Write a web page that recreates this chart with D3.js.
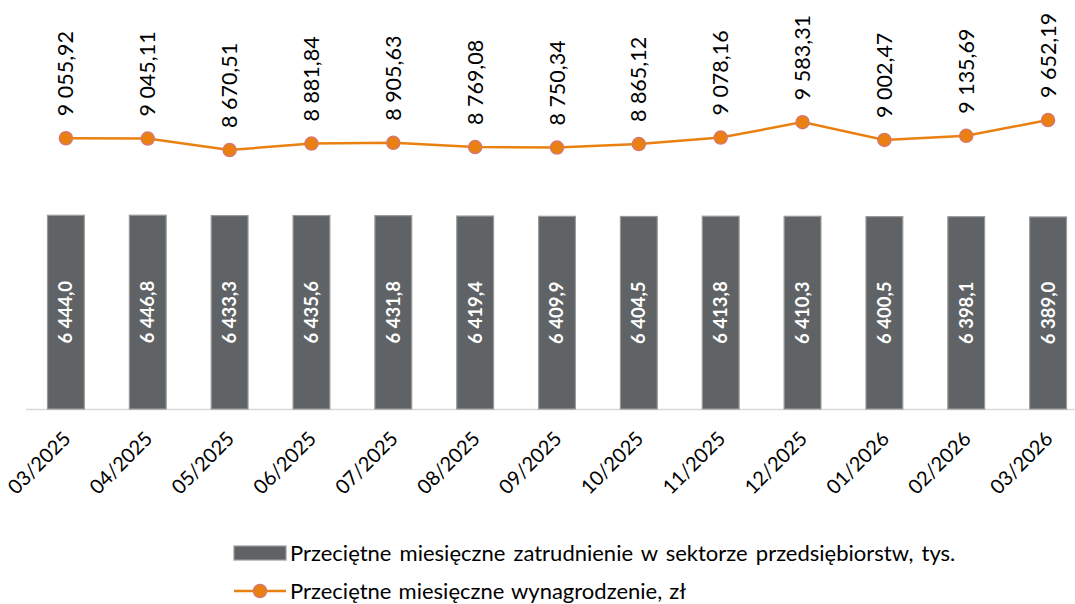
<!DOCTYPE html>
<html><head><meta charset="utf-8">
<script src="https://cdn.jsdelivr.net/npm/d3@7"></script>
<style>
html,body{margin:0;padding:0;background:#fff;}
svg{display:block;font-family:Lato,"Open Sans",sans-serif;}
</style></head>
<body>
<svg id="chart" width="1075" height="604"></svg>
<script>
const categories = ["03/2025","04/2025","05/2025","06/2025","07/2025","08/2025","09/2025","10/2025","11/2025","12/2025","01/2026","02/2026","03/2026"];
const employment = [6444.0,6446.8,6433.3,6435.6,6431.8,6419.4,6409.9,6404.5,6413.8,6410.3,6400.5,6398.1,6389.0];
const wages = [9055.92,9045.11,8670.51,8881.84,8905.63,8769.08,8750.34,8865.12,9078.16,9583.31,9002.47,9135.69,9652.19];
const seriesNames = ["Przeciętne miesięczne zatrudnienie w sektorze przedsiębiorstw, tys.","Przeciętne miesięczne wynagrodzenie, zł"];

const svg = d3.select("#chart");
const fmt = (v, d) => {
  const s = v.toFixed(d).split(".");
  const int = s[0].replace(/\B(?=(\d{3})+(?!\d))/g, " ");
  return int + "," + s[1];
};

const x = d3.scaleBand().domain(categories).range([25, 1089]).paddingInner(0.55).paddingOuter(0.275);
const yBar = d3.scaleLinear().domain([0, 12900]).range([409, 409 - 12900*0.03006]);
const yLine = d3.scaleLinear().domain([0, 12000]).range([415, 415 - 12000*0.03056]);

// baseline
svg.append("line").attr("x1", 26).attr("x2", 1075).attr("y1", 409.5).attr("y2", 409.5)
  .attr("stroke", "#d9d9d9").attr("stroke-width", 1.5);

// bars
svg.append("g").selectAll("rect").data(employment).join("rect")
  .attr("x", (d,i) => x(categories[i]))
  .attr("width", x.bandwidth())
  .attr("y", d => yBar(d))
  .attr("height", d => yBar(0) - yBar(d))
  .attr("fill", "#5f6366").attr("stroke", "#9a9a9a").attr("stroke-width", 1.2);

// bar labels
svg.append("g").selectAll("text").data(employment).join("text")
  .attr("transform", (d,i) => `translate(${x(categories[i]) + x.bandwidth()/2},${(yBar(d)+yBar(0))/2}) rotate(-90)`)
  .attr("text-anchor", "middle").attr("dy", "0.35em")
  .attr("fill", "#fff").attr("font-weight", "bold").attr("font-size", 18.5)
  .text(d => fmt(d, 1));

// line
const cx = i => x(categories[i]) + x.bandwidth()/2;
svg.append("path").datum(wages)
  .attr("d", d3.line().x((d,i) => cx(i)).y(d => yLine(d)))
  .attr("fill", "none").attr("stroke", "#e9800f").attr("stroke-width", 2.5);
svg.append("g").selectAll("circle").data(wages).join("circle")
  .attr("cx", (d,i) => cx(i)).attr("cy", d => yLine(d)).attr("r", 6.5)
  .attr("fill", "#e9800f").attr("stroke", "#d6786c").attr("stroke-width", 1.5);

// line labels
svg.append("g").selectAll("text").data(wages).join("text")
  .attr("transform", (d,i) => `translate(${cx(i)},${yLine(d) - 22}) rotate(-90)`)
  .attr("text-anchor", "start").attr("dy", "0.35em")
  .attr("fill", "#000").attr("font-size", 21.5)
  .text(d => fmt(d, 2));

// x axis labels
svg.append("g").selectAll("text").data(categories).join("text")
  .attr("transform", (d) => `translate(${x(d) + x.bandwidth()/2 + 1},${435}) rotate(-45)`)
  .attr("text-anchor", "end").attr("dy", "0.35em")
  .attr("fill", "#000").attr("font-size", 20)
  .text(d => d);

// legend
const lg = svg.append("g");
lg.append("rect").attr("x", 234).attr("y", 546).attr("width", 52).attr("height", 14)
  .attr("fill", "#5f6366").attr("stroke", "#9a9a9a").attr("stroke-width", 1.2);
lg.append("text").attr("x", 290).attr("y", 553).attr("dy", "0.35em").attr("font-size", 22).attr("word-spacing", 2.5).attr("fill", "#000").text(seriesNames[0]);
lg.append("line").attr("x1", 234).attr("x2", 286).attr("y1", 591).attr("y2", 591).attr("stroke", "#e9800f").attr("stroke-width", 2.5);
lg.append("circle").attr("cx", 260).attr("cy", 591).attr("r", 6.5).attr("fill", "#e9800f").attr("stroke", "#d6786c").attr("stroke-width", 1.5);
lg.append("text").attr("x", 290).attr("y", 591).attr("dy", "0.35em").attr("font-size", 22).attr("word-spacing", 1.5).attr("fill", "#000").text(seriesNames[1]);
</script>
</body></html>
